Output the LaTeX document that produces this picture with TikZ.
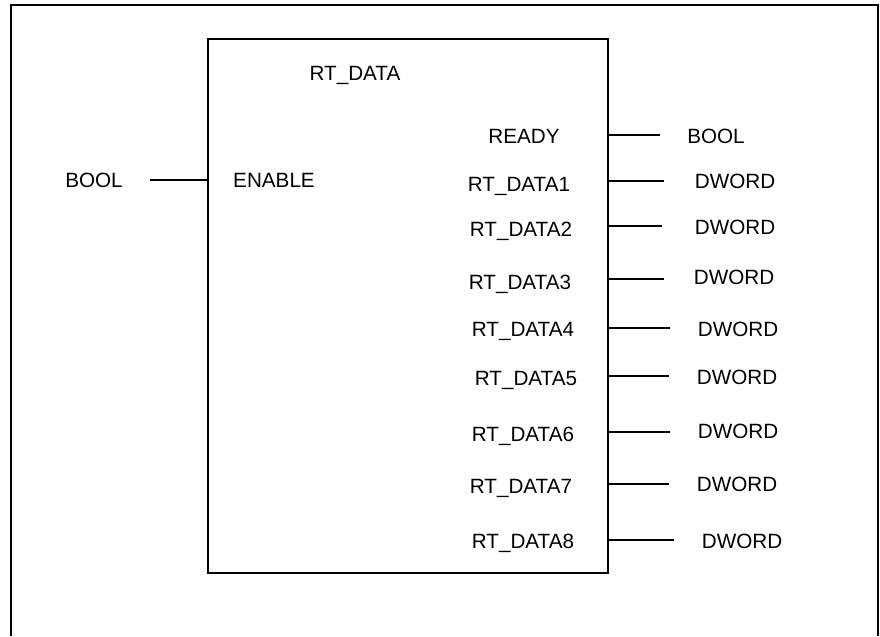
\documentclass[tikz,border=0pt]{standalone}
\usepackage{fontspec}
\setmainfont{Liberation Sans}
\usetikzlibrary{positioning}
\usetikzlibrary{calc}

\begin{document}
\begin{tikzpicture}[x=0.75pt,y=-0.75pt,line width=1pt]
\tikzset{pin/.style={anchor=base,inner sep=0pt,font=\fontsize{15.5}{18}\selectfont}}
\useasboundingbox (0,0) rectangle (880,636);
% outer frame, open at the bottom
\coordinate (FL) at (11,636);
\coordinate (FTL) at (11,5);
\coordinate (FTR) at (878,5);
\coordinate (FR) at (878,636);
\draw[line width=1.3pt] (FL) -- (FTL) -- (FTR) -- (FR);
% block
\coordinate (BL) at (208,573);
\coordinate (TR) at (608,39);
\draw (BL) rectangle (TR);
\node[pin] (title) at (355,80) {RT\_DATA};
% input
\node[pin] (inT) at (94,187) {BOOL};
\node[pin] (en) at (274,187) {ENABLE};
\coordinate (E0) at (150,180);
\coordinate (E1) at (208,180);
\draw (E0) -- (E1);
% outputs
\node[pin] (rdy) at (524,143) {READY};
\node[pin] (rdyT) at (716,143) {BOOL};
\node[pin] (d1) at (519,191) {RT\_DATA1};
\node[pin] (d1T) at (735,188) {DWORD};
\node[pin] (d2) at (521,236) {RT\_DATA2};
\node[pin] (d2T) at (735,234) {DWORD};
\node[pin] (d3) at (520,289) {RT\_DATA3};
\node[pin] (d3T) at (734,284) {DWORD};
\node[pin] (d4) at (523,336) {RT\_DATA4};
\node[pin] (d4T) at (738,336) {DWORD};
\node[pin] (d5) at (526,385) {RT\_DATA5};
\node[pin] (d5T) at (737,384) {DWORD};
\node[pin] (d6) at (523,441) {RT\_DATA6};
\node[pin] (d6T) at (738,438) {DWORD};
\node[pin] (d7) at (521,493) {RT\_DATA7};
\node[pin] (d7T) at (737,491) {DWORD};
\node[pin] (d8) at (523,548) {RT\_DATA8};
\node[pin] (d8T) at (742,548) {DWORD};
\coordinate (R0) at (608,135);
\coordinate (R0e) at (660,135);
\coordinate (R1) at (608,181);
\coordinate (R1e) at (664,181);
\coordinate (R2) at (608,226);
\coordinate (R2e) at (662,226);
\coordinate (R3) at (608,279);
\coordinate (R3e) at (664,279);
\coordinate (R4) at (608,328);
\coordinate (R4e) at (670,328);
\coordinate (R5) at (608,376);
\coordinate (R5e) at (669,376);
\coordinate (R6) at (608,432);
\coordinate (R6e) at (670,432);
\coordinate (R7) at (608,484);
\coordinate (R7e) at (669,484);
\coordinate (R8) at (608,540);
\coordinate (R8e) at (674,540);
\draw (R0) -- (R0e);
\draw (R1) -- (R1e);
\draw (R2) -- (R2e);
\draw (R3) -- (R3e);
\draw (R4) -- (R4e);
\draw (R5) -- (R5e);
\draw (R6) -- (R6e);
\draw (R7) -- (R7e);
\draw (R8) -- (R8e);
\end{tikzpicture}
\end{document}
